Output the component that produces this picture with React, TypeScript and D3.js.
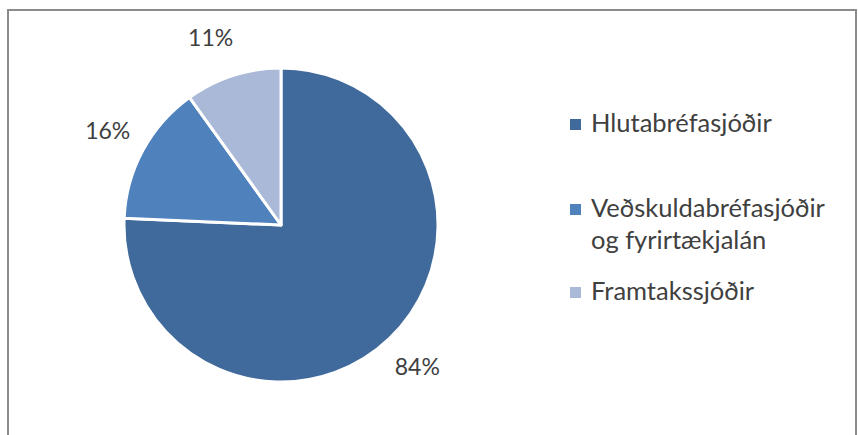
import * as d3 from "d3";

// slice values as printed on the labels (they do not add to 100)
const categories = ["Hlutabréfasjóðir", "Veðskuldabréfasjóðir og fyrirtækjalán", "Framtakssjóðir"];
const values = [84, 16, 11];
const valueLabels = ["84%", "16%", "11%"];
const legendLines = [["Hlutabréfasjóðir"], ["Veðskuldabréfasjóðir", "og fyrirtækjalán"], ["Framtakssjóðir"]];
const colors = ["#416a9c", "#4f81bd", "#aab9d7"];

export default function App() {
	const width = 858,
		height = 435;
	const cx = 281,
		cy = 225,
		radius = 157;
	const font = "Lato, 'Open Sans', sans-serif";

	const pie = d3.pie<number>().sort(null).value((d) => d);
	const arcs = pie(values);
	const arc = d3.arc<d3.PieArcDatum<number>>().innerRadius(0).outerRadius(radius);
	const labelArc = d3.arc<d3.PieArcDatum<number>>().innerRadius(197).outerRadius(197);

	// legend rows: baseline of first line for each entry
	const legendY = d3.scaleOrdinal<string, number>().domain(categories).range([132, 217, 300]);

	return (
		<svg width={width} height={height} style={{ position: "absolute", left: 0, top: 0 }}>
			<rect x={0} y={0} width={width} height={height} fill="#fff" />
			<rect x={8} y={10} width={848} height={440} fill="none" stroke="#8c8c8c" strokeWidth={2} />
			<g transform={`translate(${cx},${cy})`}>
				{arcs.map((a, i) => (
					<path key={i} d={arc(a) ?? ""} fill={colors[i]} stroke="#fff" strokeWidth={3} strokeLinejoin="round" />
				))}
				{arcs.map((a, i) => {
					const [x, y] = labelArc.centroid(a);
					// Excel nudges the small top label a bit to the left
					const nudge = i === 2 ? -10 : 0;
					return (
						<text
							key={i}
							x={x + nudge}
							y={y}
							dy="0.35em"
							textAnchor="middle"
							fontFamily={font}
							fontSize={23}
							fill="#404040"
						>
							{valueLabels[i]}
						</text>
					);
				})}
			</g>
			{categories.map((c, i) => {
				const y = legendY(c);
				return (
					<g key={c}>
						<rect x={570} y={y - 13} width={11} height={11} fill={colors[i]} />
						<text x={591} y={y} fontFamily={font} fontSize={25.5} fill="#404040">
							{legendLines[i].map((line, j) => (
								<tspan key={j} x={591} dy={j === 0 ? 0 : 32}>
									{line}
								</tspan>
							))}
						</text>
					</g>
				);
			})}
		</svg>
	);
}
